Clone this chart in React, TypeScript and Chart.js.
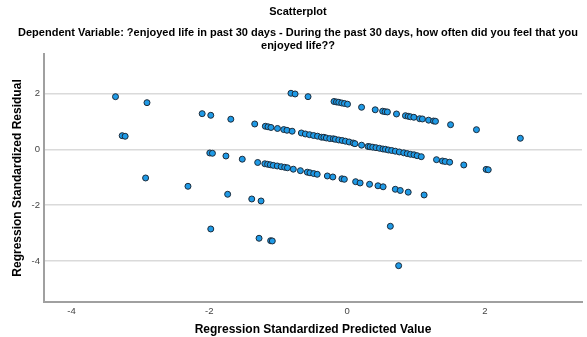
import React, { useEffect, useRef } from "react";
import { Chart, registerables } from "chart.js";

Chart.register(...registerables);

const titleText = "Scatterplot";
const subtitleLines = [
  "Dependent Variable: ?enjoyed life in past 30 days - During the past 30 days, how often did you feel that you",
  "enjoyed life??",
];
const xAxisTitle = "Regression Standardized Predicted Value";
const yAxisTitle = "Regression Standardized Residual";
const xTickValues = [-4, -2, 0, 2];
const yTickValues = [-4, -2, 0, 2];

// Regression standardized predicted values (x) and residuals (y)
const predicted = [
  // band 1
  -0.815, -0.755, -0.567, -0.19, -0.154, -0.121, -0.078, -0.039, 0.006, 0.21, 0.408, 0.516, 0.552, 0.585, 0.717,
  0.847, 0.887, 0.92, 0.969, 1.053, 1.093, 1.183, 1.255, 1.283, 1.502, 1.878, 2.515,
  // band 2
  -3.362, -2.905, -2.104, -1.979, -1.688, -1.341, -1.187, -1.148, -1.105, -1.011, -0.92, -0.873, -0.798, -0.664,
  -0.606, -0.546, -0.487, -0.429, -0.372, -0.337, -0.301, -0.251, -0.2, -0.171, -0.121, -0.071, -0.024, 0.03,
  0.088, 0.114, 0.21, 0.304, 0.333, 0.372, 0.419, 0.47, 0.52, 0.556, 0.599, 0.647, 0.7, 0.758, 0.822, 0.873, 0.92,
  0.971, 1.017, 1.077, 1.298, 1.384, 1.424, 1.489, 1.694, 2.018, 2.049,
  // band 3
  -3.265, -3.222, -1.993, -1.955, -1.759, -1.522, -1.298, -1.194, -1.154, -1.115, -1.072, -1.014, -0.956, -0.906,
  -0.866, -0.781, -0.678, -0.578, -0.539, -0.485, -0.434, -0.287, -0.207, -0.075, -0.04, 0.124, 0.189, 0.326,
  0.448, 0.523, 0.7, 0.772, 0.887, 1.118,
  // band 4
  -2.925, -2.31, -1.734, -1.384, -1.249, 0.628,
  // band 5
  -1.979, -1.278, -1.11, -1.086, 0.748,
];
const residuals = [
  // band 1
  2.011, 1.986, 1.889, 1.717, 1.699, 1.688, 1.663, 1.645, 1.62, 1.509, 1.419, 1.369, 1.351, 1.341, 1.269, 1.208,
  1.186, 1.168, 1.151, 1.1, 1.09, 1.047, 1.018, 1.007, 0.885, 0.706, 0.398,
  // band 2
  1.889, 1.674, 1.28, 1.222, 1.082, 0.91, 0.828, 0.81, 0.785, 0.749, 0.71, 0.685, 0.652, 0.588, 0.552, 0.527, 0.498,
  0.473, 0.437, 0.434, 0.409, 0.387, 0.38, 0.362, 0.337, 0.319, 0.294, 0.265, 0.229, 0.204, 0.151, 0.104, 0.093,
  0.079, 0.061, 0.039, 0.014, 0.004, -0.022, -0.039, -0.065, -0.093, -0.122, -0.151, -0.176, -0.194, -0.226,
  -0.262, -0.369, -0.416, -0.434, -0.459, -0.559, -0.717, -0.731,
  // band 3
  0.491, 0.47, -0.129, -0.14, -0.237, -0.351, -0.47, -0.516, -0.534, -0.552, -0.573, -0.595, -0.62, -0.642, -0.659,
  -0.71, -0.763, -0.817, -0.839, -0.867, -0.892, -0.953, -0.989, -1.054, -1.072, -1.158, -1.204, -1.251, -1.305,
  -1.341, -1.43, -1.473, -1.534, -1.634,
  // band 4
  -1.025, -1.323, -1.609, -1.778, -1.849, -2.756,
  // band 5
  -2.853, -3.186, -3.272, -3.283, -4.168,
];

export default function App() {
  const canvasRef = useRef<HTMLCanvasElement | null>(null);

  useEffect(() => {
    if (!canvasRef.current) return;
    const font = "'Liberation Sans', Arial, sans-serif";
    const points = predicted.map((x, i) => ({ x, y: residuals[i] }));
    const chart = new Chart(canvasRef.current, {
      type: "scatter",
      data: {
        datasets: [
          {
            data: points,
            backgroundColor: "#1f9ae6",
            borderColor: "#1c2b3a",
            borderWidth: 1,
            pointRadius: 3,
          },
        ],
      },
      options: {
        animation: false,
        responsive: false,
        maintainAspectRatio: false,
        layout: { padding: { left: 10, right: 1, top: 0, bottom: 0 } },
        plugins: {
          legend: { display: false },
          tooltip: { enabled: false },
          title: {
            display: true,
            text: titleText,
            color: "#000",
            font: { family: font, size: 11, weight: "bold", lineHeight: 1.2 },
            padding: { top: 5, bottom: 8.3 },
          },
          subtitle: {
            display: true,
            text: subtitleLines,
            color: "#000",
            font: { family: font, size: 11, weight: "bold", lineHeight: 1.18 },
            padding: { top: 0, bottom: 1.5 },
          },
        },
        scales: {
          x: {
            type: "linear",
            min: -4.4,
            max: 3.41,
            afterBuildTicks: (s: any) => {
              s.ticks = xTickValues.map((v) => ({ value: v }));
            },
            afterFit: (s: any) => {
              s.height = 35;
            },
            grid: { display: false, drawTicks: false },
            border: { display: true, color: "#a0a0a0", width: 2 },
            ticks: {
              color: "#444",
              font: { family: font, size: 9.5 },
              padding: 4,
              maxRotation: 0,
            },
            title: {
              display: true,
              text: xAxisTitle,
              color: "#000",
              font: { family: font, size: 12, weight: "bold", lineHeight: 1.2 },
              padding: { top: 0, bottom: 0 },
            },
          },
          y: {
            type: "linear",
            min: -5.47,
            max: 3.42,
            afterBuildTicks: (s: any) => {
              s.ticks = yTickValues.map((v) => ({ value: v }));
            },
            afterFit: (s: any) => {
              s.width = 34;
            },
            grid: { display: true, color: "#dadada", lineWidth: 1.5, drawTicks: false },
            border: { display: true, color: "#a0a0a0", width: 2 },
            ticks: {
              color: "#444",
              font: { family: font, size: 9.5 },
              padding: 4,
            },
            title: {
              display: true,
              text: yAxisTitle,
              color: "#000",
              font: { family: font, size: 12, weight: "bold", lineHeight: 1.2 },
              padding: { top: 0, bottom: 0 },
            },
          },
        },
      },
    });
    return () => chart.destroy();
  }, []);

  return (
    <div style={{ position: "fixed", left: 0, top: 0, width: 587, height: 337, background: "#fff" }}>
      <canvas ref={canvasRef} width={587} height={337} style={{ width: 587, height: 337 }} />
    </div>
  );
}
